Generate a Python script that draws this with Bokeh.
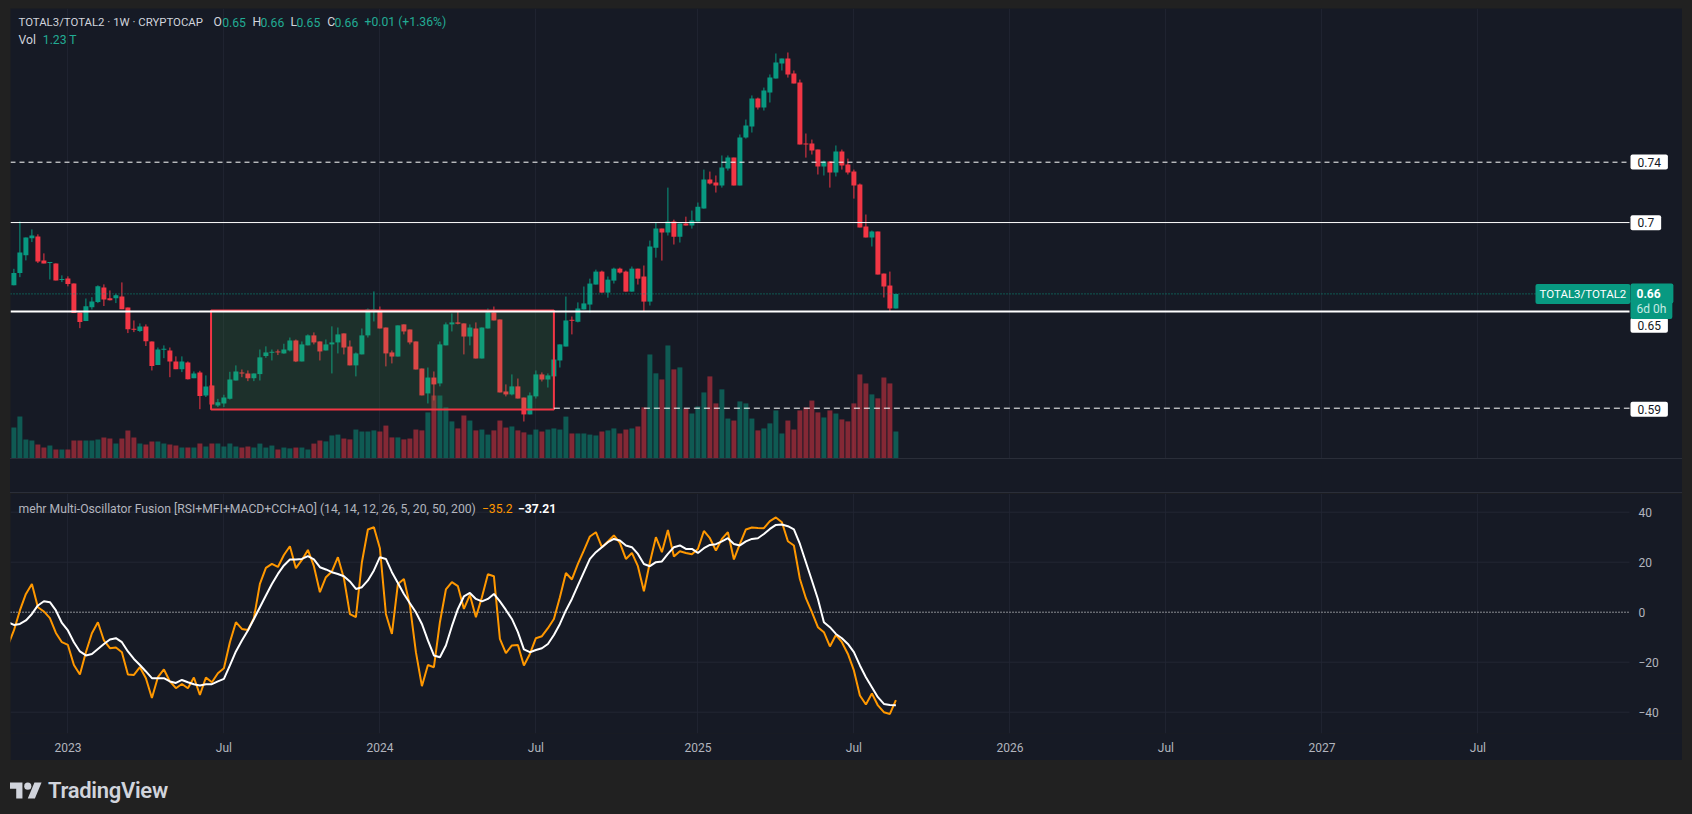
import pandas as pd
from bokeh.plotting import figure
from bokeh.models import ColumnDataSource, Range1d, FixedTicker, Label, Div, Spacer
from bokeh.layouts import column, row
from bokeh.embed import file_html
from bokeh.resources import INLINE

try:
    from bokeh.models import GlobalInlineStyleSheet
except Exception:
    GlobalInlineStyleSheet = None

# ---------------- data ----------------
first_bar = "2022-10-31"          # weekly bars (Monday)
opens = [0.6649,0.6724,0.6832,0.6937,0.6947,0.6801,0.6785,0.6783,0.6681,0.6691,
         0.6661,0.6484,0.6431,0.6516,0.6547,0.6636,0.6571,0.6571,0.6581,0.6514,
         0.6382,0.6370,0.6398,0.6307,0.6163,0.6256,0.6252,0.6185,0.6138,0.6179,
         0.6083,0.6118,0.5978,0.6039,0.5917,0.5929,0.5957,0.6069,0.6116,0.6112,
         0.6083,0.6108,0.6218,0.6238,0.6244,0.6234,0.6252,0.6313,0.6185,0.6283,
         0.6344,0.6307,0.6252,0.6289,0.6301,0.6356,0.6276,0.6161,0.6228,0.6344,
         0.6496,0.6500,0.6392,0.6240,0.6215,0.6411,0.6380,0.6307,0.6142,0.5990,
         0.6087,0.6051,0.6283,0.6411,0.6423,0.6417,0.6337,0.6386,0.6203,0.6386,
         0.6484,0.6441,0.6002,0.5984,0.6033,0.5965,0.5862,0.5972,0.6106,0.6075,
         0.6094,0.6191,0.6276,0.6437,0.6427,0.6502,0.6532,0.6654,0.6733,0.6605,
         0.6678,0.6751,0.6733,0.6611,0.6751,0.6703,0.6550,0.6879,0.6995,0.6971,
         0.7038,0.6946,0.7026,0.7014,0.7038,0.7117,0.7294,0.7276,0.7258,0.7361,
         0.7428,0.7258,0.7550,0.7617,0.7788,0.7733,0.7825,0.7910,0.8002,0.8032,
         0.7941,0.7886,0.7514,0.7514,0.7477,0.7374,0.7404,0.7337,0.7465,0.7386,
         0.7343,0.7264,0.7008,0.6941,0.6977,0.6721,0.6648,0.6508]
highs = [0.6750,0.7039,0.6941,0.6990,0.6960,0.6844,0.6789,0.6783,0.6710,0.6704,
         0.6661,0.6484,0.6569,0.6577,0.6649,0.6655,0.6618,0.6598,0.6667,0.6514,
         0.6435,0.6417,0.6411,0.6307,0.6270,0.6283,0.6270,0.6216,0.6216,0.6185,
         0.6124,0.6128,0.6100,0.6039,0.5957,0.5982,0.6122,0.6161,0.6136,0.6130,
         0.6112,0.6258,0.6277,0.6258,0.6258,0.6293,0.6331,0.6319,0.6307,0.6350,
         0.6362,0.6307,0.6319,0.6399,0.6392,0.6356,0.6313,0.6240,0.6386,0.6508,
         0.6612,0.6520,0.6392,0.6252,0.6405,0.6411,0.6380,0.6307,0.6142,0.6148,
         0.6124,0.6307,0.6423,0.6478,0.6490,0.6417,0.6411,0.6423,0.6392,0.6508,
         0.6520,0.6441,0.6045,0.6106,0.6081,0.5965,0.5996,0.6130,0.6118,0.6112,
         0.6222,0.6289,0.6581,0.6459,0.6545,0.6642,0.6690,0.6745,0.6739,0.6703,
         0.6757,0.6757,0.6739,0.6764,0.6751,0.6770,0.6922,0.7032,0.6995,0.7245,
         0.7050,0.7026,0.7068,0.7105,0.7154,0.7355,0.7343,0.7319,0.7441,0.7441,
         0.7428,0.7569,0.7660,0.7807,0.7794,0.7855,0.7935,0.8063,0.8032,0.8069,
         0.7959,0.7904,0.7575,0.7538,0.7477,0.7410,0.7404,0.7502,0.7477,0.7422,
         0.7355,0.7270,0.7081,0.6983,0.6977,0.6721,0.6733,0.6597]
lows = [0.6649,0.6699,0.6801,0.6913,0.6785,0.6783,0.6685,0.6679,0.6669,0.6643,
        0.6480,0.6388,0.6431,0.6502,0.6541,0.6523,0.6557,0.6541,0.6504,0.6358,
        0.6364,0.6364,0.6279,0.6130,0.6163,0.6205,0.6089,0.6138,0.6120,0.6075,
        0.6083,0.5894,0.5968,0.5923,0.5907,0.5907,0.5953,0.6069,0.6089,0.6065,
        0.6065,0.6069,0.6207,0.6191,0.6224,0.6232,0.6246,0.6181,0.6185,0.6283,
        0.6289,0.6191,0.6252,0.6112,0.6234,0.6228,0.6161,0.6094,0.6228,0.6331,
        0.6429,0.6386,0.6155,0.6173,0.6215,0.6350,0.6289,0.6136,0.5978,0.5929,
        0.5947,0.6033,0.6283,0.6368,0.6411,0.6228,0.6283,0.6203,0.6203,0.6386,
        0.6435,0.5996,0.5972,0.5978,0.5959,0.5819,0.5862,0.5959,0.6063,0.6026,
        0.6039,0.6148,0.6276,0.6350,0.6423,0.6502,0.6483,0.6654,0.6605,0.6574,
        0.6660,0.6721,0.6611,0.6611,0.6654,0.6489,0.6526,0.6818,0.6800,0.6953,
        0.6898,0.6910,0.7014,0.6995,0.7038,0.7117,0.7264,0.7215,0.7245,0.7349,
        0.7258,0.7258,0.7544,0.7581,0.7721,0.7715,0.7764,0.7910,0.7959,0.7916,
        0.7880,0.7508,0.7428,0.7447,0.7325,0.7319,0.7245,0.7313,0.7355,0.7325,
        0.7178,0.7002,0.6941,0.6886,0.6715,0.6575,0.6489,0.6508]
closes = [0.6724,0.6850,0.6941,0.6953,0.6795,0.6783,0.6789,0.6679,0.6685,0.6657,
          0.6480,0.6425,0.6521,0.6551,0.6643,0.6563,0.6559,0.6588,0.6504,0.6382,
          0.6378,0.6398,0.6309,0.6157,0.6258,0.6260,0.6185,0.6138,0.6185,0.6077,
          0.6112,0.5974,0.6033,0.5923,0.5937,0.5966,0.6075,0.6124,0.6112,0.6083,
          0.6112,0.6210,0.6240,0.6242,0.6240,0.6258,0.6313,0.6185,0.6289,0.6344,
          0.6301,0.6246,0.6289,0.6301,0.6350,0.6270,0.6161,0.6234,0.6344,0.6502,
          0.6500,0.6386,0.6234,0.6215,0.6405,0.6368,0.6301,0.6136,0.5978,0.6087,
          0.6045,0.6289,0.6411,0.6423,0.6415,0.6337,0.6392,0.6203,0.6392,0.6484,
          0.6435,0.5996,0.5984,0.6033,0.5959,0.5862,0.5978,0.6106,0.6075,0.6100,
          0.6197,0.6289,0.6435,0.6433,0.6508,0.6539,0.6660,0.6733,0.6605,0.6684,
          0.6751,0.6727,0.6611,0.6751,0.6690,0.6550,0.6886,0.6995,0.6971,0.7038,
          0.6946,0.7026,0.7014,0.7044,0.7129,0.7294,0.7270,0.7258,0.7367,0.7428,
          0.7258,0.7550,0.7624,0.7788,0.7733,0.7837,0.7916,0.8008,0.8032,0.7935,
          0.7880,0.7508,0.7508,0.7471,0.7374,0.7404,0.7337,0.7465,0.7380,0.7337,
          0.7258,0.7002,0.6941,0.6977,0.6715,0.6642,0.6508,0.6597]
volumes_t = [1.41,1.91,0.87,0.82,0.64,0.50,0.59,0.41,0.41,0.41,
             0.82,0.82,0.82,0.82,0.87,0.96,0.91,0.68,0.91,1.28,
             0.96,0.68,0.64,0.78,0.78,0.68,0.64,0.59,0.50,0.50,
             0.50,0.68,0.55,0.68,0.68,0.55,0.68,0.55,0.50,0.55,
             0.50,0.68,0.50,0.59,0.41,0.50,0.46,0.50,0.50,0.41,
             0.68,0.82,0.78,1.05,1.09,0.91,0.87,1.32,1.23,1.23,
             1.28,1.23,1.50,0.96,0.96,0.87,0.91,1.32,1.28,2.10,
             2.87,2.87,2.33,1.69,1.37,1.96,1.73,1.28,1.32,1.09,
             1.28,1.73,1.41,1.46,1.28,1.19,1.09,1.32,1.23,1.32,
             1.37,1.32,1.91,1.14,1.14,1.14,1.09,1.05,1.23,1.28,
             1.37,1.14,1.32,1.37,1.46,2.33,4.74,3.88,3.60,5.15,
             4.06,4.15,2.28,2.05,2.37,3.01,3.74,2.51,3.15,1.82,
             1.73,2.60,2.51,1.82,1.28,1.37,1.60,2.19,1.14,1.73,
             1.32,2.19,2.33,2.64,2.10,1.87,2.19,2.05,1.78,1.69,
             2.51,3.83,3.42,2.92,2.74,3.69,3.42,1.23]

osc_first_bar = "2022-10-24"
osc_fast = [-13.3,-7.3,0.7,7.3,11.3,2.0,0.3,-2.4,-8.3,-12.0,
            -13.1,-21.1,-24.9,-16.0,-8.4,-4.0,-11.3,-14.4,-14.1,-16.0,
            -24.9,-25.1,-22.0,-26.4,-34.3,-26.0,-22.9,-27.7,-30.4,-28.7,
            -30.4,-26.1,-33.1,-26.1,-28.0,-24.4,-22.4,-12.0,-4.0,-6.7,
            -7.1,-2.4,11.3,17.7,19.3,18.1,22.9,26.4,17.6,20.9,
            24.9,18.4,8.0,14.0,16.3,22.0,13.6,-0.8,-2.0,20.0,
            33.1,34.0,25.6,-0.7,-8.7,11.3,13.3,2.7,-16.0,-29.6,
            -21.1,-22.0,-4.0,9.1,12.0,10.4,1.3,6.9,-2.0,6.0,
            15.2,14.4,-10.7,-16.4,-13.3,-13.1,-21.3,-16.7,-10.4,-9.6,
            -6.4,-2.7,6.0,15.7,13.1,19.3,24.7,30.3,32.0,26.0,
            28.3,30.7,27.7,21.3,23.7,18.4,8.4,20.0,30.0,24.0,
            32.9,22.3,24.4,23.7,23.2,25.3,32.5,29.6,24.7,29.3,
            32.0,21.1,27.3,33.1,33.9,33.7,33.6,36.4,37.9,36.0,
            28.4,26.7,13.3,5.6,0.0,-6.0,-8.0,-13.7,-9.1,-12.0,
            -16.7,-23.3,-33.3,-36.9,-32.5,-37.3,-40.0,-40.7,-35.2]
osc_slow = [-4.0,-5.1,-4.7,-3.3,-0.7,2.7,4.4,4.0,0.7,-4.3,
            -7.3,-12.0,-15.7,-17.3,-16.7,-14.7,-12.7,-10.9,-10.4,-12.0,
            -15.7,-18.7,-21.1,-23.7,-26.4,-26.4,-26.4,-27.7,-28.3,-27.1,
            -28.0,-28.8,-29.3,-28.8,-28.8,-27.7,-26.7,-21.3,-15.7,-11.3,
            -7.3,-2.7,2.0,6.7,11.3,15.3,18.7,21.1,21.1,21.3,
            22.4,21.1,18.0,17.1,16.0,15.3,14.4,12.3,9.3,10.0,
            12.7,16.7,22.0,21.3,16.0,11.7,7.3,3.6,0.0,-4.7,
            -11.3,-17.3,-18.0,-13.3,-5.6,1.3,6.3,7.7,5.3,4.3,
            5.3,7.3,4.3,0.9,-2.7,-8.0,-14.9,-16.0,-15.1,-14.4,
            -12.7,-9.1,-4.7,0.7,5.3,10.7,16.0,21.3,24.0,26.0,
            28.0,29.3,28.7,26.7,26.0,23.3,19.3,18.4,20.0,20.3,
            23.3,26.0,26.7,25.3,25.3,23.7,25.6,26.9,27.2,28.3,
            29.6,27.3,26.7,28.3,29.3,29.6,31.3,33.3,34.9,35.1,
            34.4,33.1,27.3,20.0,12.7,5.3,-4.0,-6.0,-8.7,-10.4,
            -12.7,-16.0,-21.3,-26.0,-30.0,-34.0,-36.7,-37.1,-37.21]

# user drawings
level_dashed_top = 0.74
level_solid = 0.7032
level_support = 0.649
level_dashed_low = 0.5900
box_start, box_end = "2023-06-18", "2024-07-22"
box_top, box_bottom = 0.6496, 0.5892

tick_dates = ["2023-01-02", "2023-07-03", "2024-01-01", "2024-07-01", "2025-01-06",
              "2025-07-07", "2026-01-05", "2026-07-06", "2027-01-04", "2027-07-05"]
tick_labels = ["2023", "Jul", "2024", "Jul", "2025", "Jul", "2026", "Jul", "2027", "Jul"]
osc_ticks = [-40, -20, 0, 20, 40]
osc_tick_labels = ["\u221240", "\u221220", "0", "20", "40"]

# ---------------- styling ----------------
FONT = "Roboto"
BG = "#161a25"
GREEN = "#089981"
RED = "#f23645"
TXT = "#d1d4dc"
TXT2 = "#b2b5be"
TEAL = "#22ab94"
GRID = "#1f2330"
LEG = "12.2px"

week = pd.Timedelta(days=7)
dates = pd.date_range(first_bar, periods=len(closes), freq="7D")
osc_dates = pd.date_range(osc_first_bar, periods=len(osc_fast), freq="7D")
t0 = dates[0]
left_edge = t0 - 0.567 * week          # left side of the panes
scale_edge = t0 + 269.27 * week        # where the price scale column starts
x_range = Range1d(start=left_edge, end=t0 + 278.1 * week)
tick_ms = [int(pd.Timestamp(d).value // 10**6) for d in tick_dates]

px_price = 1 / 1640.0
body_bottom = [min(o, c) for o, c in zip(opens, closes)]
body_top = [max(max(o, c), min(o, c) + px_price) for o, c in zip(opens, closes)]
colors = [GREEN if c >= o else RED for o, c in zip(opens, closes)]
src = ColumnDataSource(dict(x=dates, high=highs, low=lows, top=body_top, bottom=body_bottom,
                            vol=volumes_t, color=colors))

FW = 1672
common = dict(frame_width=FW, x_axis_type="datetime", x_range=x_range, toolbar_location=None,
              output_backend="svg", background_fill_color=BG, border_fill_color=BG,
              outline_line_color=None, min_border_left=0, min_border_right=0, min_border_top=0)

p = figure(frame_height=450, y_range=Range1d(0.55933, 0.83372), x_axis_location=None,
           y_axis_location=None, min_border_bottom=0, **common)
p.extra_y_ranges = {"vol": Range1d(0, 20.5)}
p.xgrid.ticker = FixedTicker(ticks=tick_ms)
p.xgrid.grid_line_color = GRID
p.ygrid.visible = False

bar_w = 0.83 * 7 * 86400000
p.vbar(x="x", top="vol", bottom=0, width=bar_w, fill_color="color", fill_alpha=0.5,
       line_color=None, source=src, y_range_name="vol")
p.segment(x0="x", y0="low", x1="x", y1="high", line_color="color", line_width=1, source=src)
p.vbar(x="x", top="top", bottom="bottom", width=bar_w, fill_color="color", line_color=None, source=src)

p.quad(left=[pd.Timestamp(box_start)], right=[pd.Timestamp(box_end)], top=[box_top],
       bottom=[box_bottom], fill_color="#4caf50", fill_alpha=0.15, line_color=RED, line_width=2)


def hline(fig, x0, y, **kw):
    fig.segment(x0=[x0], x1=[scale_edge], y0=[y], y1=[y], **kw)


hline(p, left_edge, closes[-1], line_color=GREEN, line_width=1, line_dash="1 2")
hline(p, left_edge, level_dashed_top, line_color="white", line_width=1, line_dash="5 4")
hline(p, left_edge, level_solid, line_color="white", line_width=1)
hline(p, left_edge, level_support, line_color="white", line_width=2)
hline(p, pd.Timestamp(box_end), level_dashed_low, line_color="white", line_width=1, line_dash="6 4")


def add_label(fig, X, Y, text, color, bottom_ref, size=LEG, bold=False, bg=None, pad=None,
              alpha=1.0, y_data=None):
    kw = dict(x=X - 10, x_units="screen", text=text, text_color=color, text_font=FONT,
              text_font_size=size, text_font_style="bold" if bold else "normal",
              text_baseline="middle", text_align="left", text_alpha=alpha)
    if y_data is None:
        kw.update(y=bottom_ref - Y, y_units="screen")
    else:
        kw.update(y=y_data, y_units="data")
    lbl = Label(**kw)
    if bg is not None:
        lbl.background_fill_color = bg
        lbl.background_fill_alpha = 1.0
        if pad is not None:
            try:
                lbl.padding = pad
            except Exception:
                lbl.padding = pad[0]
        try:
            lbl.border_radius = 2
        except Exception:
            pass
    fig.add_layout(lbl)


# legend of main pane
MB = 458
add_label(p, 18, 21.7, "TOTAL3/TOTAL2 · 1W · CRYPTOCAP", TXT, MB, size="11.4px")
for txt, X, col in [("O", 213, TXT), ("0.65", 221.7, TEAL),
                    ("H", 252, TXT), ("0.66", 260, TEAL), ("L", 290, TXT), ("0.65", 296, TEAL),
                    ("C", 326.7, TXT), ("0.66", 334, TEAL), ("+0.01 (+1.36%)", 364, TEAL)]:
    add_label(p, X, 21.7, txt, col, MB)
add_label(p, 18, 39, "Vol", TXT, MB)
add_label(p, 42.3, 39, "1.23 T", TEAL, MB)

# price scale labels (X = left edge of the label box)
DARK = "#131722"
add_label(p, 1630, 161.5, "0.74", DARK, MB, size="12px", bg="white", pad=(7, 3))
add_label(p, 1630, 222.3, "0.7", DARK, MB, size="12px", bg="white", pad=(7, 3))
add_label(p, 1630, 324.7, "0.65", DARK, MB, size="12px", bg="white", pad=(7, 3))
add_label(p, 1630, 408.7, "0.59", DARK, MB, size="12px", bg="white", pad=(7, 3))
add_label(p, 1535, 293.5, "TOTAL3/TOTAL2", "white", MB, size="11.5px", bg=GREEN, pad=(4, 3))
add_label(p, 1630, 308.5, "6d 0h", "#c8ebe5", MB, size="12px", bg=GREEN, pad=(6, 3))
add_label(p, 1630, 293.0, "0.66\u2007", "white", MB, size="12px", bold=True, bg=GREEN, pad=(6, 3))

# ---------------- oscillator pane ----------------
q = figure(frame_height=240, y_range=Range1d(-48.52, 47.48), y_axis_location=None,
           min_border_bottom=27, **common)
q.xaxis.ticker = FixedTicker(ticks=tick_ms)
q.xaxis.major_label_overrides = {t: l for t, l in zip(tick_ms, tick_labels)}
ax = q.xaxis[0]
ax.axis_line_color = None
ax.major_tick_line_color = None
ax.minor_tick_line_color = None
ax.major_tick_out = 0
ax.major_tick_in = 0
ax.minor_tick_out = 0
ax.major_label_text_color = TXT2
ax.major_label_text_font = FONT
ax.major_label_text_font_size = "12px"
ax.major_label_standoff = 7
q.xgrid.ticker = FixedTicker(ticks=tick_ms)
q.xgrid.grid_line_color = GRID
q.ygrid.visible = False

grid_levels = [t for t in osc_ticks if t != 0]
q.segment(x0=[left_edge] * len(grid_levels), x1=[scale_edge] * len(grid_levels),
          y0=grid_levels, y1=grid_levels, line_color="#232734", line_width=1)
hline(q, left_edge, 0, line_color="white", line_width=1, line_dash="1 2")
q.line(osc_dates, osc_fast, line_color="#ff9800", line_width=2)
q.line(osc_dates, osc_slow, line_color="white", line_width=2)

OB = 733
for t, lab in zip(osc_ticks, osc_tick_labels):
    add_label(q, 1638, 0, lab, TXT2, OB, size="12px", y_data=t)
add_label(q, 18, 508.3, "mehr Multi-Oscillator Fusion [RSI+MFI+MACD+CCI+AO] (14, 14, 12, 26, 5, 20, 50, 200)", TXT2, OB)
add_label(q, 481.4, 508.3, "\u221235.2", "#ff9800", OB)
add_label(q, 517.4, 508.3, "\u221237.21", "white", OB, bold=True)

# ---------------- separators / footer ----------------
band = Div(text="", width=FW, height=35, margin=0,
           styles={"background-color": BG, "border-top": "1px solid #2a2e39",
                   "border-bottom": "1px solid #2a2e39", "box-sizing": "border-box"})

logo_svg = ('<svg width="32" height="25" viewBox="0 0 36 28" style="display:block">'
            '<path d="M14 22H7V11H0V4h14v18zM28 22h-8l7.5-18h8L28 22z" fill="#d1d4dc"/>'
            '<circle cx="20" cy="8" r="4" fill="#d1d4dc"/></svg>')
logo = Div(text=('<div style="display:flex;align-items:center;height:26px;margin-top:18px;margin-left:0px;">'
                 + logo_svg +
                 '<span style="font-family:Roboto;font-weight:600;font-size:22px;color:#d1d4dc;'
                 'margin-left:6px;letter-spacing:-0.3px;">TradingView</span></div>'),
           width=FW, height=54, margin=0)

top_gap = Spacer(width=FW, height=8)
layout = row(Spacer(width=10, height=814), column(top_gap, p, band, q, logo))
if GlobalInlineStyleSheet is not None:
    layout.stylesheets = [GlobalInlineStyleSheet(css="html, body { background-color: #212121; overflow: hidden; }")]

open("out.html", "w").write(file_html(layout, INLINE))
